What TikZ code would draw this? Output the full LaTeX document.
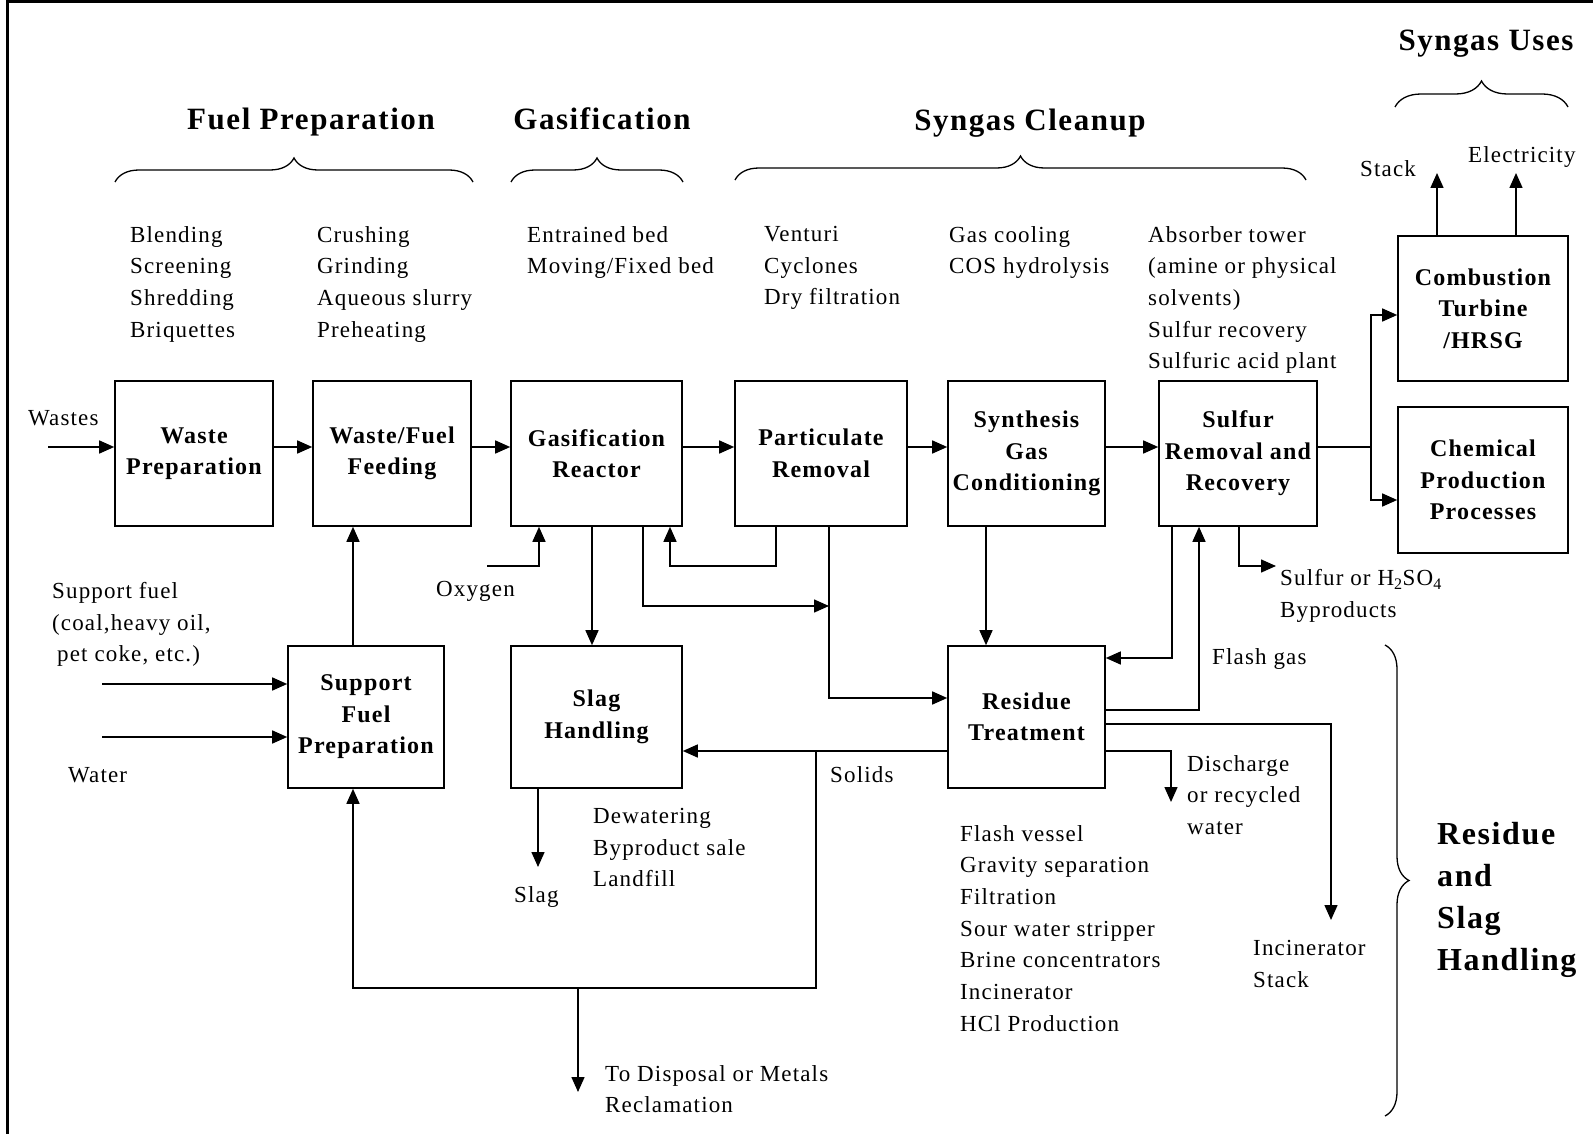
\documentclass[tikz,border=0pt]{standalone}
\usepackage{fontspec}
\setmainfont{Liberation Serif}[LetterSpace=5]
\usetikzlibrary{arrows.meta,positioning,decorations.pathreplacing,calc}

\newcommand{\bodyfont}{\fontsize{23}{31.7}\selectfont}
\newcommand{\boxfont}{\fontsize{24}{31.5}\selectfont\bfseries}
\newcommand{\headfont}{\fontsize{31}{36}\selectfont\bfseries}
\newcommand{\sidefont}{\fontsize{32}{42}\selectfont\bfseries}

\begin{document}
\begin{tikzpicture}[
    x=1pt, y=-1pt,
    every node/.style={inner sep=0pt},
    box/.style={rectangle, draw, line width=1.6pt, align=center, font=\boxfont, minimum height=145pt},
    note/.style={anchor=north west, align=left, font=\bodyfont},
    head/.style={font=\headfont},
    line/.style={line width=1.5pt},
    arrow/.style={-{Triangle[length=15pt,width=13pt]}, line width=1.5pt},
    brace/.style={decorate, decoration={brace, amplitude=24pt}, line width=1.3pt},
]

\useasboundingbox (0,0) rectangle (1593,1134);

% Frame (left and top edges)
\draw[line width=3pt] (7,1134) -- (7,2) -- (1593,2);

% Section titles
\node[head] (hfuel) at (311,122) {Fuel Preparation};
\node[head] (hgas) at (602,119) {Gasification};
\node[head] (hclean) at (1030,123) {Syngas Cleanup};
\node[head] (huses) at (1486,44) {Syngas Uses};

% Braces
\draw[brace] (115,182) -- (473,182);
\draw[brace] (511,182) -- (683,182);
\draw[brace] (735,180) -- (1306,180);
\draw[brace, decoration={amplitude=26pt}] (1395,107) -- (1568,107);

% Process lists
\node[note] (lblend) at (130,226) {Blending\\Screening\\Shredding\\Briquettes};
\node[note] (lcrush) at (317,226) {Crushing\\Grinding\\Aqueous slurry\\Preheating};
\node[note] (lbed) at (527,226) {Entrained bed\\Moving/Fixed bed};
\node[note] (lventuri) at (764,226) {Venturi\\Cyclones\\Dry filtration};
\node[note] (lcool) at (949,226) {Gas cooling\\COS hydrolysis};
\node[note] (labsorb) at (1148,226) {Absorber tower\\(amine or physical\\solvents)\\Sulfur recovery\\Sulfuric acid plant};

% Main row
\node[box, minimum width=158pt] (wprep) at (194,453.5) {Waste\\Preparation};
\node[box, minimum width=158pt] (feed) at (392,453.5) {Waste/Fuel\\Feeding};
\node[box, minimum width=171pt] (reactor) at (596.5,453.5) {Gasification\\Reactor};
\node[box, minimum width=172pt] (partic) at (821,453.5) {Particulate\\Removal};
\node[box, minimum width=157pt] (synth) at (1026.5,453.5) {Synthesis\\Gas\\Conditioning};
\node[box, minimum width=158pt] (sulfur) at (1238,453.5) {Sulfur\\Removal and\\Recovery};

% Syngas uses
\node[box, minimum width=170pt] (turbine) at (1483,308.5) {Combustion\\Turbine\\/HRSG};
\node[box, minimum width=170pt, minimum height=146pt] (chem) at (1483,480) {Chemical\\Production\\Processes};

% Lower row
\node[box, minimum width=156pt, minimum height=142pt] (suppfuel) at (366,717) {Support\\Fuel\\Preparation};
\node[box, minimum width=171pt, minimum height=142pt] (slag) at (596.5,717) {Slag\\Handling};
\node[box, minimum width=157pt, minimum height=142pt] (residue) at (1026.5,717) {Residue\\Treatment};

% Main flow arrows
\foreach \a/\b in {wprep/feed, feed/reactor, reactor/partic, partic/synth, synth/sulfur}
  \draw[arrow] ([yshift=6.5pt]\a.east) -- ([yshift=6.5pt]\b.west);

% Wastes in
\coordinate (wastesin) at (48,447);
\draw[arrow] (wastesin) -- ([yshift=6.5pt]wprep.west);
\node[note] (lwastes) at (28,410) {Wastes};

% Syngas to uses
\coordinate (usesplit) at (1371,447);
\draw[line] ([yshift=6.5pt]sulfur.east) -- (usesplit);
\draw[arrow] (usesplit) |- ([yshift=-6.5pt]turbine.west);
\draw[arrow] (usesplit) |- ([yshift=-20pt]chem.west);

\coordinate (stackout) at (1437,173);
\coordinate (elecout) at (1516,173);
\draw[arrow] (turbine.north -| stackout) -- (stackout);
\draw[arrow] (turbine.north -| elecout) -- (elecout);
\node[note] (lstack) at (1360,160) {Stack};
\node[note] (lelec) at (1468,146) {Electricity};

% Support fuel
\coordinate (sfin) at (102,684);
\coordinate (waterin) at (102,737);
\draw[arrow] (sfin) -- (suppfuel.west |- sfin);
\draw[arrow] (waterin) -- (suppfuel.west |- waterin);
\node[note] (lsupp) at (52,582) {Support fuel\\(coal,heavy oil,\\\hspace*{5pt}pet coke, etc.)};
\node[note] (lwater) at (68,767) {Water};

\coordinate (feedcol) at (353,0);
\draw[arrow] (suppfuel.north -| feedcol) -- (feed.south -| feedcol);

% Oxygen
\coordinate (oxin) at (487,566);
\coordinate (oxcol) at (539,566);
\draw[arrow] (oxin) -- (oxcol) -- (reactor.south -| oxcol);
\node[note] (loxy) at (436,581) {Oxygen};

% Reactor outlets
\coordinate (slagcol) at (592,0);
\draw[arrow] (reactor.south -| slagcol) -- (slag.north -| slagcol);

\coordinate (rxturn) at (643,606);
\coordinate (rxjoin) at (829,606);
\draw[arrow] (reactor.south -| rxturn) -- (rxturn) -- (rxjoin);

% Particulate recycle
\coordinate (recturn) at (776,566);
\coordinate (recback) at (670,566);
\draw[arrow] (partic.south -| recturn) -- (recturn) -- (recback) -- (reactor.south -| recback);

\coordinate (pturn) at (829,698);
\draw[arrow] (partic.south -| pturn) -- (pturn) -- (residue.west |- pturn);

% Cleanup to residue treatment
\coordinate (syncol) at (986,0);
\draw[arrow] (synth.south -| syncol) -- (residue.north -| syncol);

\coordinate (sretturn) at (1172,658);
\draw[arrow] (sulfur.south -| sretturn) -- (sretturn) -- (residue.east |- sretturn);

\coordinate (flashturn) at (1199,710);
\draw[arrow] (residue.east |- flashturn) -- (flashturn) -- (sulfur.south -| flashturn);
\node[note] (lflash) at (1212,648) {Flash gas};

\coordinate (byturn) at (1239,566);
\coordinate (byout) at (1276,566);
\draw[arrow] (sulfur.south -| byturn) -- (byturn) -- (byout);
\node[note] (lbyprod) at (1280,569) {Sulfur or H\textsubscript{2}SO\textsubscript{4}\\Byproducts};

% Residue outlets
\coordinate (incturn) at (1331,724);
\coordinate (incout) at (1331,920);
\draw[arrow] (residue.east |- incturn) -- (incturn) -- (incout);
\node[note] (linc) at (1253,940) {Incinerator\\Stack};

\coordinate (disturn) at (1171,751);
\coordinate (disout) at (1171,802);
\draw[arrow] (residue.east |- disturn) -- (disturn) -- (disout);
\node[note] (ldis) at (1187,755) {Discharge\\or recycled\\water};

\coordinate (solidsjoin) at (816,751);
\draw[arrow] (residue.west |- solidsjoin) -- (slag.east |- solidsjoin);
\node[note] (lsolids) at (830,766) {Solids};

\coordinate (loopright) at (816,988);
\coordinate (loopleft) at (353,988);
\draw[arrow] (solidsjoin) -- (loopright) -- (loopleft) -- (suppfuel.south -| loopleft);

\coordinate (dispsplit) at (578,988);
\coordinate (dispout) at (578,1092);
\draw[arrow] (dispsplit) -- (dispout);
\node[note] (ldisp) at (605,1065) {To Disposal or Metals\\Reclamation};

% Slag out
\coordinate (slagout) at (538,867);
\draw[arrow] (slag.south -| slagout) -- (slagout);
\node[note] (lslag) at (514,886) {Slag};

\node[note] (ldewater) at (593,808) {Dewatering\\Byproduct sale\\Landfill};
\node[note] (lflashv) at (960,825) {Flash vessel\\Gravity separation\\Filtration\\Sour water stripper\\Brine concentrators\\Incinerator\\HCl Production};

% Residue and slag handling
\draw[brace] (1385,645) -- (1385,1116);
\node[note, font=\sidefont] (hres) at (1437,822) {Residue\\and\\Slag\\Handling};

\end{tikzpicture}
\end{document}
